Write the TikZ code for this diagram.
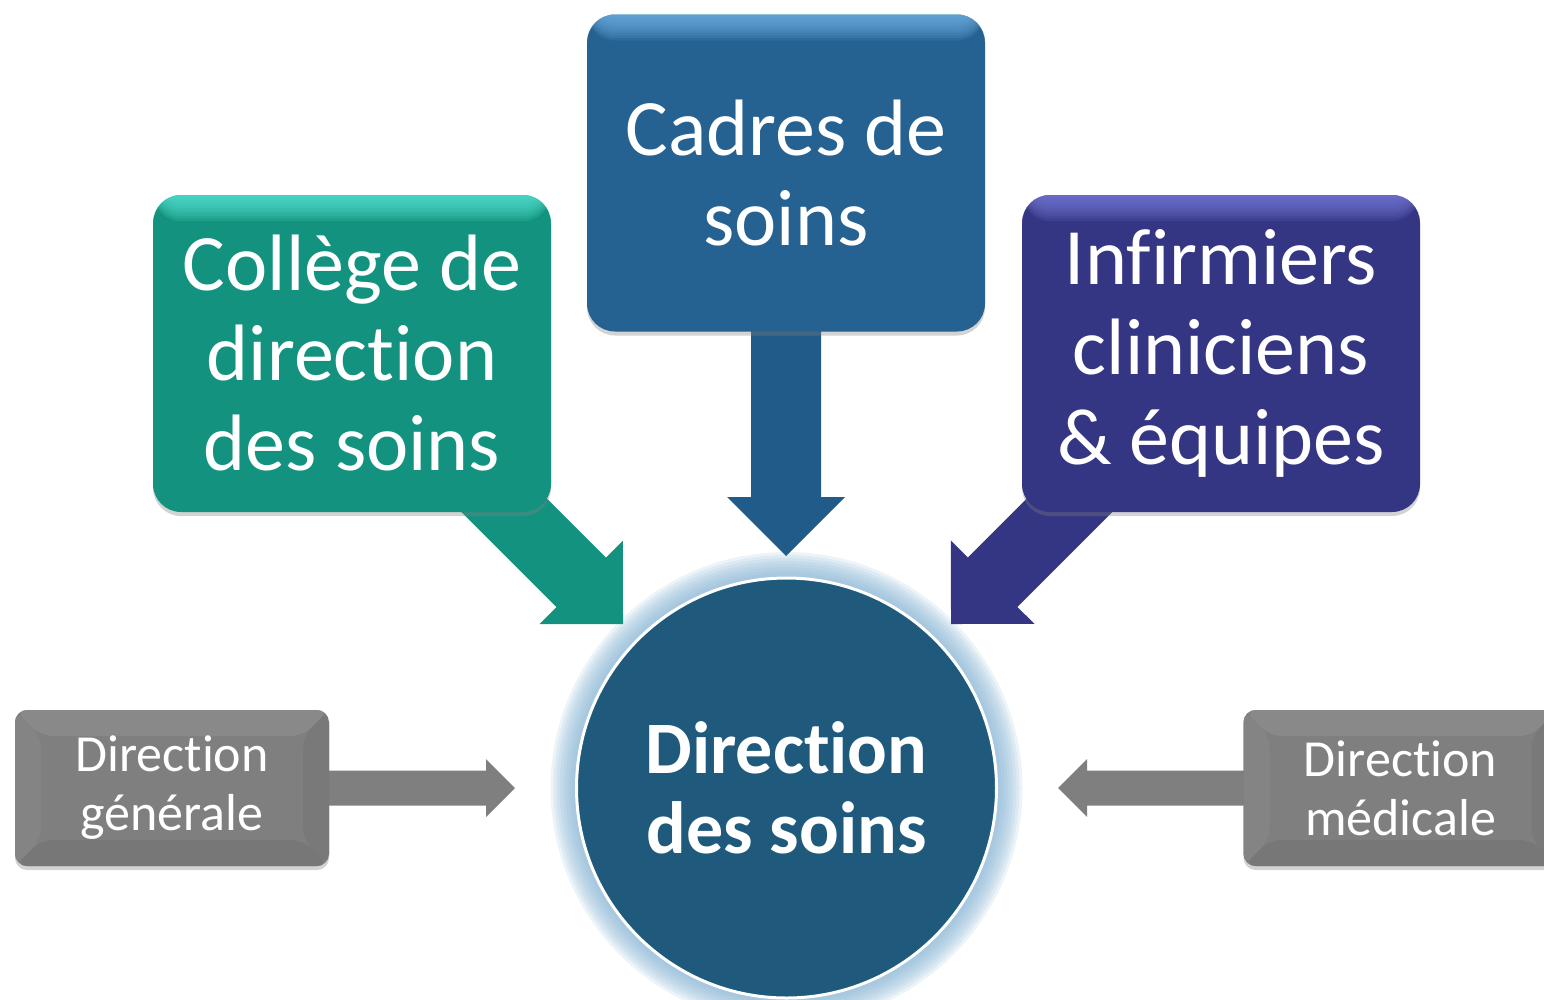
\documentclass[tikz,border=0pt]{standalone}
\usepackage{fontspec}
\setmainfont{Carlito}[Ligatures=NoCommon]
\usetikzlibrary{shadows,calc}
\definecolor{teal1}{HTML}{13937F}
\definecolor{tealhl}{HTML}{5AE8D8}
\definecolor{blue1}{HTML}{256191}
\definecolor{bluehl}{HTML}{72B4E8}
\definecolor{bluearr}{HTML}{215B89}
\definecolor{purp1}{HTML}{343583}
\definecolor{purphl}{HTML}{7A7EDC}
\definecolor{gray1}{HTML}{7F7F7F}
\definecolor{bevtop}{HTML}{898989}
\definecolor{bevleft}{HTML}{848484}
\definecolor{bevright}{HTML}{797979}
\definecolor{bevbot}{HTML}{777777}
\definecolor{hubfill}{HTML}{1F5A7C}
\definecolor{glow}{HTML}{86B3D3}
\pgfdeclarelayer{bg}
\pgfsetlayers{bg,main}
\newcommand\blockarr[6]{% colour, start, tip, shaft half width, head half width, head length
  \fill[#1] ($(#2)!#4!90:(#3)$)
    -- ($($(#3)!#6!(#2)$)!#4!-90:(#2)$)
    -- ($($(#3)!#6!(#2)$)!#5!-90:(#2)$)
    -- (#3)
    -- ($($(#3)!#6!(#2)$)!#5!90:(#2)$)
    -- ($($(#3)!#6!(#2)$)!#4!90:(#2)$)
    -- ($(#2)!#4!-90:(#3)$) -- cycle;}
\tikzset{
  topbox/.style 2 args={rounded corners=28pt, minimum width=398pt, minimum height=317pt,
    inner sep=0pt, text=white, align=center, font=\fontsize{80}{90}\selectfont,
    fill=#1, drop shadow={shadow xshift=0pt, shadow yshift=-4pt, opacity=0.35},
    path picture={\foreach \k in {1,...,10}{
      \fill[#2, opacity=0.14] (path picture bounding box.north west)
        rectangle ([yshift={-2.6pt*\k}]path picture bounding box.north east);}}},
  sidebox/.style={rounded corners=12pt, minimum width=314pt, minimum height=156pt,
    inner sep=0pt, text=white, align=center, font=\fontsize{52}{59}\selectfont,
    fill=gray1, drop shadow={shadow xshift=0pt, shadow yshift=-4pt, opacity=0.35},
    path picture={
      \path (path picture bounding box.north west) coordinate (bNW)
            (path picture bounding box.north east) coordinate (bNE)
            (path picture bounding box.south west) coordinate (bSW)
            (path picture bounding box.south east) coordinate (bSE);
      \path ([shift={(26pt,-26pt)}]bNW) coordinate (iNW)
            ([shift={(-26pt,-26pt)}]bNE) coordinate (iNE)
            ([shift={(26pt,26pt)}]bSW) coordinate (iSW)
            ([shift={(-26pt,26pt)}]bSE) coordinate (iSE);
      \fill[bevtop] (bNW) -- (bNE) -- (iNE) -- (iNW) -- cycle;
      \fill[bevleft] (bNW) -- (iNW) -- (iSW) -- (bSW) -- cycle;
      \fill[bevright] (bNE) -- (iNE) -- (iSE) -- (bSE) -- cycle;
      \fill[bevbot] (bSW) -- (iSW) -- (iSE) -- (bSE) -- cycle;
    }},
  hub/.style={circle, minimum size=420pt, inner sep=0pt, fill=hubfill, draw=white,
    line width=3pt, text=white, align=center, font=\bfseries\fontsize{74}{80}\selectfont}
}
\begin{document}
\begin{tikzpicture}[x=1pt,y=-1pt]
\useasboundingbox (0,0) rectangle (1544,999);
\clip (0,0) rectangle (1544,999);
% boxes
\node[topbox={teal1}{tealhl}] (college) at (352,353.5) {Collège de\\direction\\des soins};
\node[topbox={blue1}{bluehl}] (cadres) at (786,173) {Cadres de\\soins};
\node[topbox={purp1}{purphl}] (infirm) at (1221,353.5) {Infirmiers\\cliniciens\\\& équipes};
\node[sidebox] (gen) at (172,788) {Direction\\générale};
\node[sidebox] (med) at (1400.5,788) {Direction\\médicale};
\node[hub] (ds) at (786.5,788) {Direction\\des soins};
% arrow tips
\coordinate (tipT) at (623,624);
\coordinate (tipB) at (786,556);
\coordinate (tipP) at (951,624);
\coordinate (tipG) at (515,788);
\coordinate (tipM) at (1058,788);
\begin{pgfonlayer}{bg}
  \clip (0,0) rectangle (1544,999);
  \foreach \r in {236,233,...,212} \fill[glow, opacity=0.15] (ds.center) circle (\r pt);
  \blockarr{teal1}{college.center}{tipT}{35pt}{59pt}{59pt}
  \blockarr{bluearr}{cadres.center}{tipB}{35pt}{59pt}{59pt}
  \blockarr{purp1}{infirm.center}{tipP}{35pt}{59pt}{59pt}
  \blockarr{gray1}{gen.center}{tipG}{17.5pt}{29pt}{29pt}
  \blockarr{gray1}{med.center}{tipM}{17.5pt}{29pt}{29pt}
\end{pgfonlayer}
\end{tikzpicture}
\end{document}
